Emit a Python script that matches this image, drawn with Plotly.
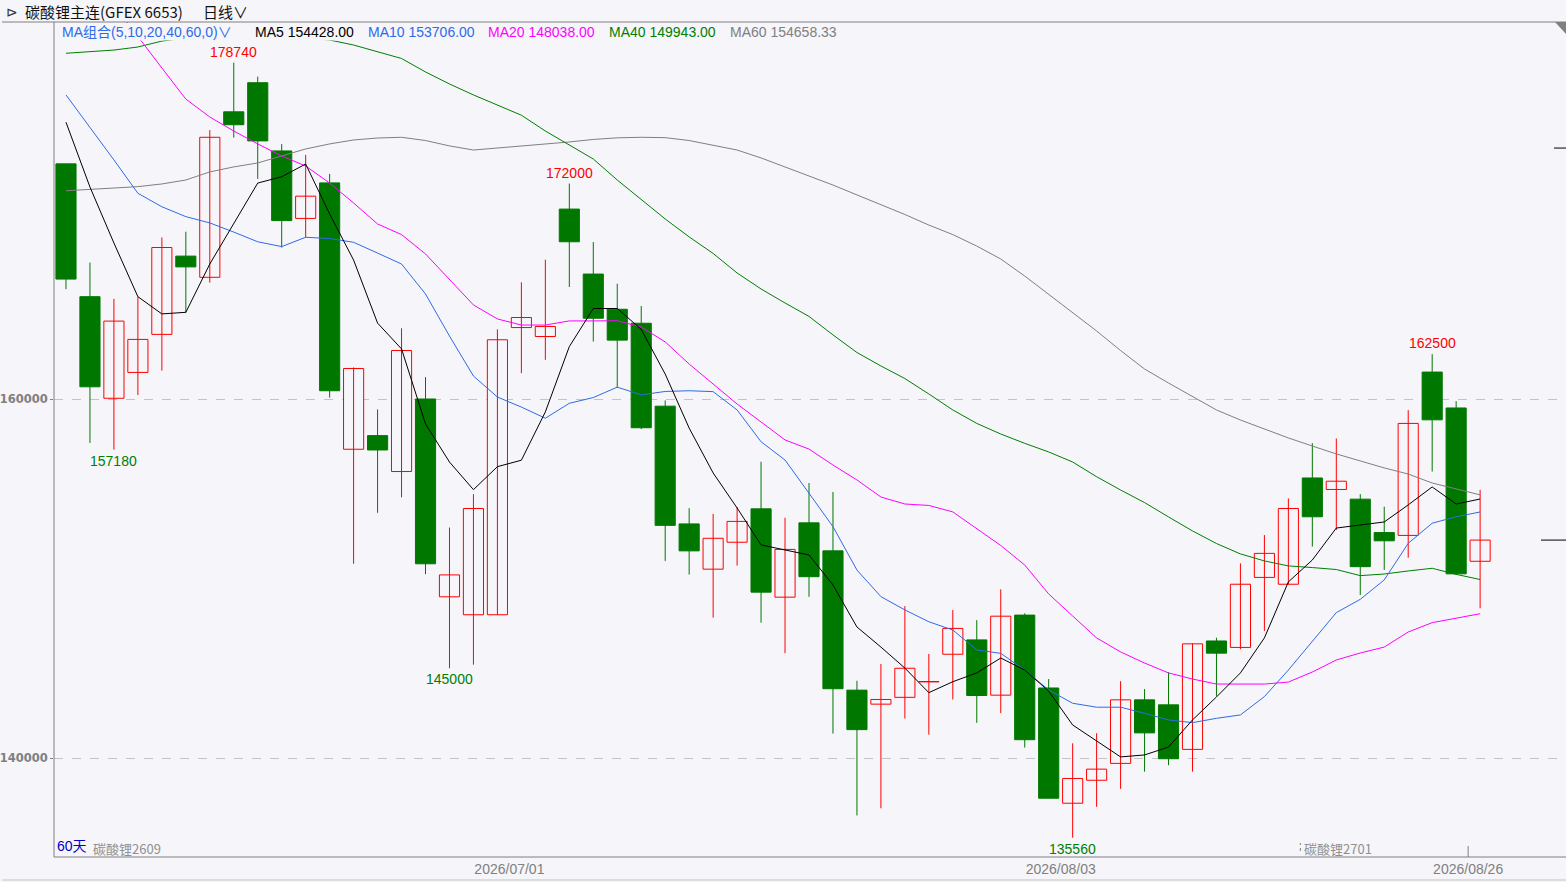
"""
plot.py - 碳酸锂主连 daily candles with MA(5,10,20,40,60) overlay.
"""
import plotly.graph_objects as go

# ---- data (60 daily bars) ----
opens = [173100, 165700, 160040, 161480, 163600, 167960, 166780, 176000, 177620, 173820,
         170060, 172040, 157200, 157960, 155960, 160000, 148980, 147980, 147980, 163980,
         163480, 170580, 166960, 165000, 164220, 159600, 153040, 150520, 152020, 153880,
         148960, 153100, 151540, 143780, 143000, 143380, 144240, 145780, 146580, 143500,
         147960, 143900, 137480, 138760, 139700, 143240, 142960, 140480, 146520, 146160,
         150060, 149680, 155600, 154960, 154420, 152560, 152400, 161500, 159500, 150960]
highs = [173100, 167600, 165580, 165700, 169000, 169320, 174980, 178740, 177960, 174200,
         173600, 172540, 161760, 159420, 163940, 161220, 152840, 154700, 163880, 166500,
         167760, 172000, 168740, 166420, 165180, 159920, 153920, 153600, 153980, 156500,
         153380, 155320, 154820, 144300, 145240, 148460, 145800, 148240, 147680, 149400,
         148060, 144400, 140820, 141380, 144280, 143840, 144780, 146380, 146700, 150840,
         152420, 154460, 157540, 157800, 154700, 154000, 159380, 162500, 159880, 154940]
lows = [166120, 157550, 157180, 160220, 161580, 164800, 166480, 174560, 172260, 168440,
        169000, 160080, 150820, 153660, 154520, 150240, 145000, 145200, 147980, 161440,
        162180, 166240, 163200, 160620, 158320, 150980, 150220, 147820, 150720, 147540,
        145840, 148980, 141360, 136800, 137200, 142200, 141300, 143260, 141960, 142500,
        140580, 137760, 135560, 137280, 138280, 139240, 139600, 139240, 143460, 146060,
        147080, 149680, 151780, 152700, 149080, 150480, 151160, 155960, 150200, 148340]
closes = [166680, 160680, 164340, 163320, 168440, 167360, 174580, 175280, 174380, 169940,
          171300, 160460, 161700, 157160, 162700, 150820, 150200, 153900, 163300, 164540,
          164040, 168760, 164500, 163280, 158400, 152960, 151540, 152240, 153180, 149240,
          151620, 150100, 143860, 141580, 143260, 145000, 144260, 147220, 143480, 147900,
          141020, 137760, 138860, 139380, 143240, 141400, 139960, 146360, 145840, 149680,
          151400, 153900, 153440, 155420, 150660, 152100, 158640, 158840, 150260, 152140]

ma5 = [175420, 171810, 168690, 165700, 164740, 164830, 167520, 169750, 172030, 172380,
       173090, 170310, 167740, 164230, 162790, 158610, 156490, 154950, 156230, 156590,
       159280, 162920, 165040, 165040, 163880, 161390, 158380, 155880, 153930, 151870,
       151590, 151310, 149640, 147300, 146180, 145010, 143640, 144250, 144740, 145570,
       144900, 143730, 141840, 140950, 140060, 140170, 140610, 142120, 143400, 144740,
       146690, 149810, 151030, 152810, 152980, 153150, 154100, 155100, 154150, 154428.00]
ma10 = [176940, 175150, 173320, 171460, 170710, 170160, 169810, 169300, 168760, 168490,
        169010, 168940, 168730, 168130, 167520, 165850, 163510, 161280, 160110, 159550,
        158930, 159760, 160080, 160660, 160230, 160420, 160460, 160410, 159390, 157620,
        156600, 154750, 152890, 150470, 148990, 148250, 147590, 147130, 146020, 145830,
        144900, 143790, 143050, 142830, 142830, 142490, 142120, 141970, 142210, 142400,
        143420, 144900, 146480, 148100, 148840, 149920, 151960, 153080, 153440, 153706.00]
ma20 = [None, None, 181950, 180170, 178440, 176710, 175710, 174930, 174210, 173540,
        172980, 172030, 170920, 169750, 169160, 168080, 166690, 165240, 164460, 164120,
        164120, 164350, 164350, 164360, 164010, 163180, 161950, 160840, 159720, 158720,
        157720, 157210, 156320, 155490, 154540, 154150, 154070, 153710, 152760, 151840,
        150750, 149140, 147910, 146690, 145910, 145290, 144740, 144400, 144120, 144120,
        144120, 144230, 144790, 145460, 145850, 146180, 147020, 147540, 147780, 148038.00]
ma40 = [179260, 179330, 179440, 179610, 179940, 180110, 180220, 180280, 180280, 180220,
        180110, 180000, 179720, 179330, 178970, 178220, 177550, 176940, 176380, 175810,
        174930, 174150, 173370, 172200, 171140, 170030, 169030, 168110, 167020, 166130,
        165350, 164600, 163570, 162590, 161840, 161140, 160280, 159390, 158640, 158050,
        157530, 157050, 156490, 155670, 154930, 154230, 153430, 152650, 151950, 151370,
        150980, 150700, 150610, 150500, 150160, 150250, 150420, 150570, 150230, 149943.00]
ma60 = [171600, 171670, 171760, 171830, 171980, 172200, 172650, 172930, 173150, 173540,
        173930, 174210, 174430, 174540, 174580, 174400, 174100, 173870, 173980, 174070,
        174180, 174320, 174460, 174550, 174580, 174560, 174400, 174150, 173870, 173430,
        172930, 172420, 171920, 171370, 170840, 170280, 169690, 169160, 168520, 167800,
        166850, 165820, 164790, 163790, 162700, 161670, 160890, 160140, 159390, 158830,
        158330, 157830, 157380, 156940, 156550, 156160, 155820, 155320, 154990, 154658.33]

date_labels = ["2026/07/01", "2026/08/03", "2026/08/26"]
date_bars = [20, 43, 60]          # bar number that carries each date
peak_bars = [8, 22, 58]           # marked highs
trough_bars = [3, 17, 43]         # marked lows
roll_bar = 53                     # first bar of 碳酸锂2701
price_ticks = [140000, 160000]
ref_levels = [173980]             # extra marker on right edge

BG = '#f5f5fa'
RED = '#ff0000'
GREEN = '#007800'
GRAY = '#808080'
BLUE = '#2f6be6'

W, H = 1566, 882
L, T, B = 52, 22, 25
PW, PH = W - L, H - T - B


def px_x(px):
    return (px - L) / PW


def px_y(py):
    return (H - B - py) / PH


bars = list(range(1, len(opens) + 1))
up = [i for i in bars if closes[i - 1] >= opens[i - 1]]
dn = [i for i in bars if closes[i - 1] < opens[i - 1]]


def wick_xy(idx):
    xs, ys = [], []
    for i in idx:
        xs += [i, i, None]
        ys += [lows[i - 1], highs[i - 1], None]
    return xs, ys


fig = go.Figure()
for idx, col in ((up, RED), (dn, GREEN)):
    wx, wy = wick_xy(idx)
    fig.add_trace(go.Scatter(x=wx, y=wy, mode='lines', line={'color': col, 'width': 1},
                             hoverinfo='skip'))

fig.add_trace(go.Bar(
    x=up, y=[closes[i - 1] - opens[i - 1] for i in up], base=[opens[i - 1] for i in up],
    width=0.84, marker={'color': BG, 'line': {'color': RED, 'width': 1}}))
fig.add_trace(go.Bar(
    x=dn, y=[opens[i - 1] - closes[i - 1] for i in dn], base=[closes[i - 1] for i in dn],
    width=0.84, marker={'color': GREEN, 'line': {'color': GREEN, 'width': 1}}))

ma_lines = [(ma60, GRAY), (ma40, '#007f00'), (ma20, '#ff00ff'), (ma10, BLUE), (ma5, '#000000')]
for vals, col in ma_lines:
    fig.add_trace(go.Scatter(x=bars, y=vals, mode='lines', line={'color': col, 'width': 1}))

# ---- text ----
ann = []
txt_font = 'Liberation Sans, Noto Sans CJK SC'
ann.append(dict(x=px_x(2), y=px_y(11), xref='paper', yref='paper', text='⊳', showarrow=False,
                xanchor='left', yanchor='middle', font={'size': 14, 'color': '#333333'}))
ann.append(dict(x=px_x(21), y=px_y(11), xref='paper', yref='paper', text='碳酸锂主连(GFEX 6653)',
                showarrow=False, xanchor='left', yanchor='middle',
                font={'size': 15, 'color': '#111111', 'family': 'Noto Sans CJK SC'}))
ann.append(dict(x=px_x(199), y=px_y(11), xref='paper', yref='paper', text='日线∨',
                showarrow=False, xanchor='left', yanchor='middle',
                font={'size': 15, 'color': '#111111', 'family': 'Noto Sans CJK SC'}))

legend_items = [
    ('MA组合(5,10,20,40,60,0)∨', BLUE, 58),
    ('MA5 %.2f' % ma5[-1], '#000000', 251),
    ('MA10 %.2f' % ma10[-1], BLUE, 364),
    ('MA20 %.2f' % ma20[-1], '#ff00ff', 485),
    ('MA40 %.2f' % ma40[-1], '#007f00', 606),
    ('MA60 %.2f' % ma60[-1], GRAY, 727),
]
for text, col, xp in legend_items:
    ann.append(dict(x=px_x(xp), y=px_y(32), xref='paper', yref='paper', text=text,
                    showarrow=False, xanchor='left', yanchor='middle',
                    font={'size': 14, 'color': col, 'family': txt_font}))

for i in peak_bars:
    ann.append(dict(x=i, y=highs[i - 1], text=str(highs[i - 1]), showarrow=False,
                    yanchor='bottom', yshift=1, font={'size': 14, 'color': RED, 'family': txt_font}))
for i in trough_bars:
    ann.append(dict(x=i, y=lows[i - 1], text=str(lows[i - 1]), showarrow=False,
                    yanchor='top', yshift=-1, font={'size': 14, 'color': '#008000', 'family': txt_font}))

ann.append(dict(x=px_x(53), y=px_y(846), xref='paper', yref='paper', text='60天',
                showarrow=False, xanchor='left', yanchor='middle',
                font={'size': 14, 'color': '#0000c8', 'family': txt_font}))
ann.append(dict(x=px_x(89), y=px_y(848), xref='paper', yref='paper', text='碳酸锂2609',
                showarrow=False, xanchor='left', yanchor='middle',
                font={'size': 13, 'color': '#909090', 'family': 'Noto Sans CJK SC'}))
ann.append(dict(x=roll_bar - 0.5, y=px_y(848), yref='paper', text='碳酸锂2701',
                showarrow=False, xanchor='left', yanchor='middle', xshift=2,
                font={'size': 13, 'color': '#909090', 'family': 'Noto Sans CJK SC'}))

# ---- frame and markers ----
shapes = [
    dict(type='rect', xref='paper', yref='paper', x0=px_x(53), x1=px_x(845),
         y0=px_y(40.5), y1=px_y(23), fillcolor=BG, line={'width': 0}, layer='above'),
    dict(type='line', xref='paper', yref='paper', x0=px_x(0), x1=1, y0=1, y1=1,
         line={'color': GRAY, 'width': 1}),
    dict(type='line', xref='paper', yref='paper', x0=0, x1=0, y0=0, y1=1,
         line={'color': GRAY, 'width': 1}),
    dict(type='line', xref='paper', yref='paper', x0=0, x1=1, y0=0, y1=0,
         line={'color': GRAY, 'width': 1}),
    dict(type='line', xref='paper', yref='paper', x0=px_x(0), x1=1, y0=px_y(880), y1=px_y(880),
         line={'color': '#dcdcdc', 'width': 2}),
    dict(type='path', xref='paper', yref='paper',
         path='M %.5f 1 L 1 1 L 1 %.5f Z' % (px_x(1555), px_y(34)),
         fillcolor=GRAY, line={'width': 0}),
    dict(type='line', xref='paper', yref='y', x0=px_x(1541), x1=1, y0=closes[-1], y1=closes[-1],
         line={'color': '#000000', 'width': 1}),
    dict(type='line', xref='x', yref='paper', x0=date_bars[-1] - 0.5, x1=date_bars[-1] - 0.5,
         y0=0, y1=px_y(846), line={'color': GRAY, 'width': 1}),
    dict(type='line', xref='x', yref='paper', x0=roll_bar - 0.5, x1=roll_bar - 0.5,
         y0=px_y(851), y1=px_y(843), line={'color': GRAY, 'width': 1, 'dash': 'dot'}),
]
for lv in ref_levels:
    shapes.append(dict(type='line', xref='paper', yref='y', x0=px_x(1554), x1=1, y0=lv, y1=lv,
                       line={'color': '#000000', 'width': 1}))

x_per_px = 24.0
y_per_px = 20000 / 359.0
y_top = 160000 + (399 - T) * y_per_px
y_bot = 160000 - (H - B - 399) * y_per_px

fig.update_layout(
    width=W, height=H,
    margin={'l': L, 'r': 0, 't': T, 'b': B, 'pad': 0},
    paper_bgcolor=BG, plot_bgcolor=BG,
    showlegend=False, barmode='overlay', hovermode=False,
    annotations=ann, shapes=shapes,
    xaxis={'range': [0.5, 0.5 + PW / x_per_px], 'showgrid': False, 'zeroline': False,
           'tickvals': [b - 0.5 for b in date_bars], 'ticktext': date_labels, 'ticks': '',
           'tickfont': {'size': 14, 'color': GRAY, 'family': txt_font},
           'ticklabelstandoff': 2, 'fixedrange': True},
    yaxis={'range': [y_bot, y_top], 'tickvals': price_ticks,
           'ticktext': [str(v) for v in price_ticks], 'showgrid': True,
           'gridcolor': '#c4c4c4', 'griddash': 'dash', 'gridwidth': 1, 'zeroline': False,
           'ticks': 'outside', 'ticklen': 3, 'tickcolor': GRAY,
           'tickfont': {'size': 11.5, 'color': GRAY, 'family': 'DejaVu Sans', 'weight': 'bold'}},
)

# page margin off so the figure sits at the window's top-left corner
fig.write_html("out.html", config={'displayModeBar': False},
               post_script="document.body.style.margin='0';document.body.style.background='%s';" % BG)
